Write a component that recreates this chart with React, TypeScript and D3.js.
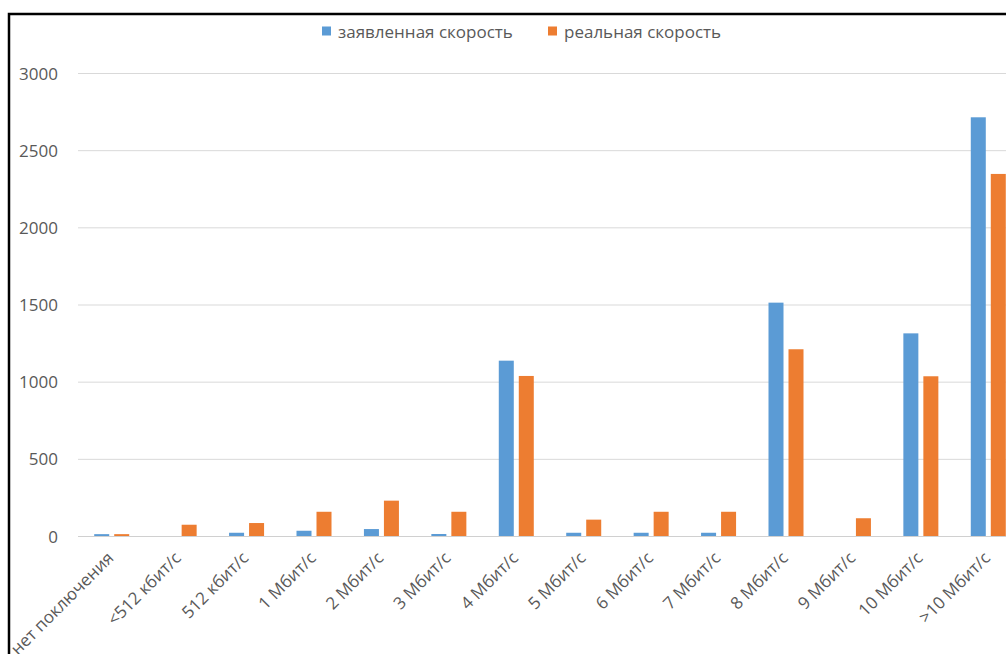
import React from "react";
import * as d3 from "d3";

// Speed tiers and survey counts
const categories = [
  "нет поключения",
  "<512 кбит/с",
  "512 кбит/с",
  "1 Мбит/с",
  "2 Мбит/с",
  "3 Мбит/с",
  "4 Мбит/с",
  "5 Мбит/с",
  "6 Мбит/с",
  "7 Мбит/с",
  "8 Мбит/с",
  "9 Мбит/с",
  "10 Мбит/с",
  ">10 Мбит/с",
];
const declaredSpeed = [12, 0, 21, 34, 45, 13, 1136, 21, 21, 21, 1512, 0, 1313, 2713];
const actualSpeed = [12, 73, 84, 157, 229, 157, 1037, 106, 157, 157, 1210, 115, 1035, 2346];
const seriesNames = ["заявленная скорость", "реальная скорость"];
const seriesColors = ["#5B9BD5", "#ED7D31"];
const yTicks = [0, 500, 1000, 1500, 2000, 2500, 3000];

const W = 1006;
const H = 654;
const FONT = "'Open Sans', 'DejaVu Sans', sans-serif";
const FS = 17;

export default function App() {
  const plotLeft = 78;
  const plotRight = 1022;
  const y = d3.scaleLinear().domain([0, 3000]).range([536, 73]);
  const x0 = d3.scaleBand<string>().domain(categories).range([plotLeft, plotRight]).padding(0);
  const groupW = 35;
  const x1 = d3.scaleBand<string>().domain(seriesNames).range([0, groupW]).paddingInner(0.25).paddingOuter(0);
  const series = [declaredSpeed, actualSpeed];

  return (
    <svg
      width={W}
      height={H}
      style={{ position: "absolute", left: 0, top: 0, background: "#fff" }}
      fontFamily={FONT}
    >
      <rect x={0} y={0} width={W} height={H} fill="#fff" />
      {/* gridlines */}
      {yTicks.map((t) => (
        <line
          key={t}
          x1={plotLeft}
          x2={W}
          y1={y(t) + 0.5}
          y2={y(t) + 0.5}
          stroke={t === 0 ? "#d0d0d0" : "#d9d9d9"}
          strokeWidth={1}
        />
      ))}
      {/* y-axis labels */}
      {yTicks.map((t) => (
        <text
          key={"l" + t}
          x={58}
          y={y(t)}
          textAnchor="end"
          dominantBaseline="central"
          fontSize={FS}
          fill="#595959"
        >
          {t}
        </text>
      ))}
      {/* bars */}
      {categories.map((c, i) => {
        const cx = (x0(c) ?? 0) + x0.bandwidth() / 2 - groupW / 2;
        return (
          <g key={c} transform={`translate(${cx},0)`}>
            {series.map((vals, s) => {
              const v = vals[i];
              if (v <= 0) return null;
              return (
                <rect
                  key={s}
                  x={x1(seriesNames[s])}
                  y={y(v)}
                  width={x1.bandwidth()}
                  height={y(0) - y(v)}
                  fill={seriesColors[s]}
                />
              );
            })}
          </g>
        );
      })}
      {/* x-axis labels */}
      {categories.map((c) => {
        const cx = (x0(c) ?? 0) + x0.bandwidth() / 2 + 3;
        const ty = 559;
        return (
          <text
            key={"x" + c}
            transform={`translate(${cx},${ty}) rotate(-45)`}
            textAnchor="end"
            fontSize={FS}
            fill="#595959"
          >
            {c}
          </text>
        );
      })}
      {/* legend */}
      {seriesNames.map((n, s) => {
        const lx = s === 0 ? 322 : 548;
        return (
          <g key={n} transform={`translate(${lx},31)`}>
            <rect x={0} y={-4.5} width={9} height={9} fill={seriesColors[s]} />
            <text x={16} y={0} dominantBaseline="central" fontSize={FS} fill="#595959">
              {n}
            </text>
          </g>
        );
      })}
      {/* frame */}
      <path d={`M9,${H + 5} V14 H${W + 5}`} fill="none" stroke="#000" strokeWidth={2.5} />
    </svg>
  );
}
